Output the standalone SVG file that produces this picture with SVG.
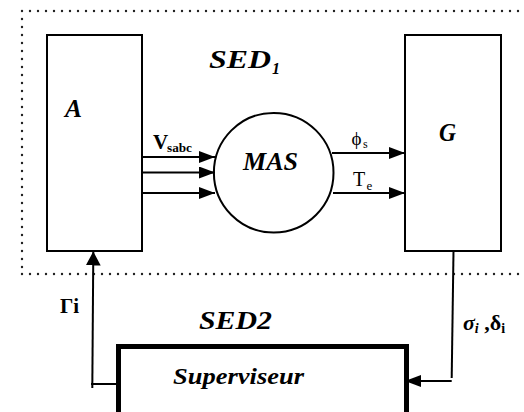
<svg xmlns="http://www.w3.org/2000/svg" width="524" height="412" viewBox="0 0 524 412">
<style>
.box{fill:#fff;stroke:#000;stroke-width:2}
.ln{fill:none;stroke:#000;stroke-width:2}
.dot{fill:none;stroke:#222;stroke-width:2.4;stroke-linecap:round;stroke-dasharray:0 8}
.bi{font-family:"Liberation Serif","Times New Roman",serif;font-weight:bold;font-style:italic;fill:#000}
.b{font-family:"Liberation Serif","Times New Roman",serif;font-weight:bold;fill:#000}
.r{font-family:"Liberation Serif","Times New Roman",serif;fill:#000}
</style>
<defs>
<marker id="ah" viewBox="0 0 16 12" refX="16" refY="6" markerWidth="16" markerHeight="12" markerUnits="userSpaceOnUse" orient="auto">
<path d="M0,0 L16,6 L0,12 Z" fill="#000"/>
</marker>
<marker id="ahv" viewBox="0 0 14 15" refX="14" refY="7.5" markerWidth="14" markerHeight="15" markerUnits="userSpaceOnUse" orient="auto">
<path d="M0,0 L14,7.5 L0,15 Z" fill="#000"/>
</marker>
</defs>
<rect width="524" height="412" fill="#fff"/>
<g id="sed1-frame">
<path class="dot" d="M22,11 H526 M22,11 V274 M22,274 H526"/>
<text class="bi" x="209" y="68" font-size="25" textLength="62" lengthAdjust="spacingAndGlyphs">SED</text>
<text class="bi" x="272" y="74" font-size="16">1</text>
</g>
<g id="node-A">
<rect class="box" x="47" y="35" width="95" height="216"/>
<text class="bi" x="65" y="117" font-size="25" textLength="17" lengthAdjust="spacingAndGlyphs">A</text>
</g>
<g id="node-G">
<rect class="box" x="405" y="35" width="96" height="216"/>
<text class="bi" x="439" y="141" font-size="25" textLength="17" lengthAdjust="spacingAndGlyphs">G</text>
</g>
<g id="node-MAS">
<circle class="box" cx="273.7" cy="172.7" r="59.8"/>
<text class="bi" x="243" y="170" font-size="25" textLength="55" lengthAdjust="spacingAndGlyphs">MAS</text>
</g>
<g id="node-superviseur">
<rect x="118.5" y="346.5" width="288" height="80" fill="#fff" stroke="#000" stroke-width="5"/>
<text class="bi" x="173" y="384" font-size="24" textLength="131" lengthAdjust="spacingAndGlyphs">Superviseur</text>
</g>
<g id="label-SED2">
<text class="bi" x="199" y="329" font-size="25" textLength="73" lengthAdjust="spacingAndGlyphs">SED2</text>
</g>
<g id="connectors">
<line class="ln" x1="142" y1="157" x2="215" y2="157" marker-end="url(#ah)"/>
<line class="ln" x1="142" y1="172.5" x2="215" y2="172.5" marker-end="url(#ah)"/>
<line class="ln" x1="142" y1="193" x2="215" y2="193" marker-end="url(#ah)"/>
<line class="ln" x1="332" y1="153" x2="405" y2="153" marker-end="url(#ah)"/>
<line class="ln" x1="333" y1="193" x2="405" y2="193" marker-end="url(#ah)"/>
<polyline class="ln" points="116,384 91,384"/>
<line class="ln" x1="92.3" y1="388" x2="93.3" y2="251.5" marker-end="url(#ahv)"/>
<polyline class="ln" points="453.5,251 451.7,378"/>
<line class="ln" x1="451.7" y1="381" x2="405" y2="381" marker-end="url(#ah)"/>
<text class="b" x="153" y="148.5" font-size="21">V</text>
<text class="b" x="167" y="151.5" font-size="13" textLength="25" lengthAdjust="spacingAndGlyphs">sabc</text>
<text class="r" x="351.5" y="145" font-size="19">ϕ</text>
<text class="r" x="363" y="148" font-size="12">s</text>
<text class="r" x="353" y="186" font-size="20">T</text>
<text class="r" x="366.5" y="190" font-size="13">e</text>
<text class="b" x="60" y="313" font-size="21">Γi</text>
<text x="463" y="330" font-size="22" fill="#000" font-family="'Liberation Serif','Times New Roman',serif"><tspan font-style="italic" font-weight="bold">σ</tspan><tspan font-style="italic" font-weight="bold" font-size="14" dy="3">i</tspan><tspan font-weight="bold" dy="-3"> ,δ</tspan><tspan font-weight="bold" font-size="14" dy="3">i</tspan></text>
</g>
</svg>
